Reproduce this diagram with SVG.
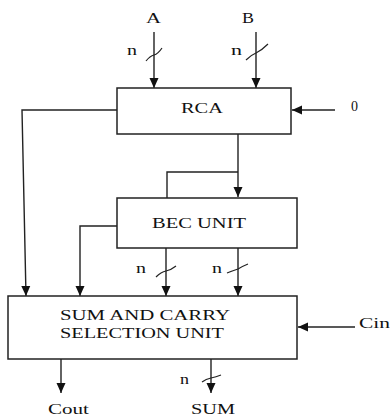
<svg xmlns="http://www.w3.org/2000/svg" width="390" height="419" viewBox="0 0 390 419">
<style>
.box{fill:#fff;stroke:#222;stroke-width:1.5}
.ln{fill:none;stroke:#222;stroke-width:1.4}
.sl{fill:none;stroke:#222;stroke-width:1.2}
text{font-family:"Liberation Serif","Times New Roman",serif;font-size:15px;fill:#111}
</style>
<defs>
<marker id="ah" markerUnits="userSpaceOnUse" markerWidth="10" markerHeight="10" viewBox="0 0 10 10" refX="10" refY="5" orient="auto">
<path d="M0,0.5 L10,5 L0,9.5 Z" fill="#111"/>
</marker>
</defs>
<rect width="390" height="419" fill="#fff"/>
<g id="connectors">
<line class="ln" x1="154" y1="32" x2="154" y2="88" marker-end="url(#ah)"/>
<line class="ln" x1="256" y1="32" x2="256" y2="88" marker-end="url(#ah)"/>
<line class="ln" x1="335" y1="110" x2="292" y2="110" marker-end="url(#ah)"/>
<polyline class="ln" points="117,110 22,110 26,296" marker-end="url(#ah)"/>
<line class="ln" x1="238" y1="134" x2="238" y2="197" marker-end="url(#ah)"/>
<polyline class="ln" points="238,172 167,172 167,198"/>
<polyline class="ln" points="117,226 80,226 80,296" marker-end="url(#ah)"/>
<line class="ln" x1="166" y1="248" x2="166" y2="296" marker-end="url(#ah)"/>
<line class="ln" x1="238" y1="248" x2="238" y2="296" marker-end="url(#ah)"/>
<line class="ln" x1="355" y1="327" x2="298" y2="327" marker-end="url(#ah)"/>
<line class="ln" x1="61" y1="359" x2="61" y2="393" marker-end="url(#ah)"/>
<line class="ln" x1="211" y1="359" x2="211" y2="393" marker-end="url(#ah)"/>
<path class="sl" d="M146,61 Q150,56 154,55 Q158,54 162,48"/>
<path class="sl" d="M246,60 Q251,55 256,53 Q262,50 268,44"/>
<path class="sl" d="M156,277 Q161,272 166,271 Q171,270 176,266"/>
<path class="sl" d="M227,273 Q232,271 238,269 Q243,266 248,264"/>
<path class="sl" d="M202,382 Q206,379 211,378 Q216,377 221,375"/>
</g>
<g id="rca">
<rect class="box" x="117" y="88" width="174" height="46"/>
<text x="181" y="113" textLength="42" lengthAdjust="spacingAndGlyphs">RCA</text>
</g>
<g id="bec">
<rect class="box" x="117" y="198" width="180" height="50"/>
<text x="152" y="228" textLength="94" lengthAdjust="spacingAndGlyphs">BEC UNIT</text>
</g>
<g id="scsu">
<rect class="box" x="8" y="296" width="289" height="63"/>
<text x="60" y="320" textLength="170" lengthAdjust="spacingAndGlyphs">SUM AND CARRY</text>
<text x="60" y="338" textLength="164" lengthAdjust="spacingAndGlyphs">SELECTION UNIT</text>
</g>
<g id="labels">
<text x="146" y="23" textLength="15" lengthAdjust="spacingAndGlyphs">A</text>
<text x="242" y="23" textLength="12" lengthAdjust="spacingAndGlyphs">B</text>
<text x="127" y="55" textLength="10" lengthAdjust="spacingAndGlyphs">n</text>
<text x="231" y="55" textLength="11" lengthAdjust="spacingAndGlyphs">n</text>
<text x="351" y="111" textLength="7" lengthAdjust="spacingAndGlyphs">0</text>
<text x="136" y="273" textLength="10" lengthAdjust="spacingAndGlyphs">n</text>
<text x="212" y="273" textLength="10" lengthAdjust="spacingAndGlyphs">n</text>
<text x="359" y="328" textLength="31" lengthAdjust="spacingAndGlyphs">Cin</text>
<text x="180" y="384" textLength="9" lengthAdjust="spacingAndGlyphs">n</text>
<text x="48" y="414" textLength="41" lengthAdjust="spacingAndGlyphs">Cout</text>
<text x="191" y="414" textLength="44" lengthAdjust="spacingAndGlyphs">SUM</text>
</g>
</svg>
